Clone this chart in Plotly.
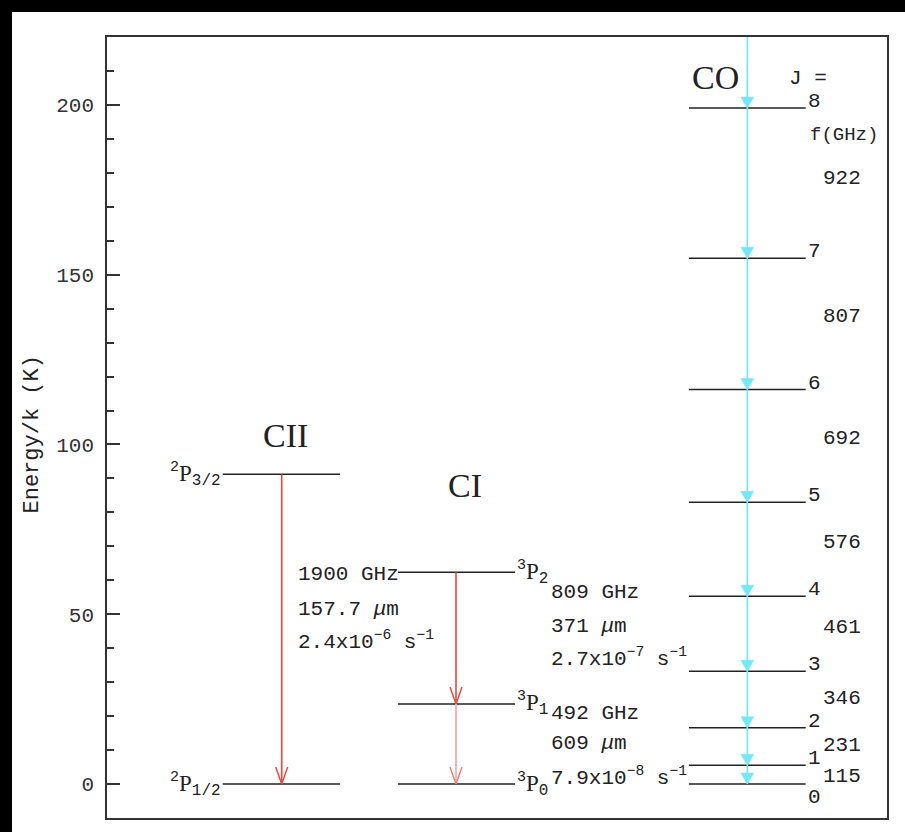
import plotly.graph_objects as go

# ---------------- data (energies in K) ----------------
cii_levels = [0.0, 91.2]
cii_term_sup = ["2", "2"]
cii_term_sub = ["1/2", "3/2"]
ci_levels = [0.0, 23.6, 62.4]
ci_term_sup = ["3", "3", "3"]
ci_term_sub = ["0", "1", "2"]
co_J = [0, 1, 2, 3, 4, 5, 6, 7, 8]
co_levels = [0.0, 5.53, 16.60, 33.19, 55.32, 82.97, 116.16, 154.87, 199.11]
co_freq = ["115", "231", "346", "461", "576", "692", "807", "922"]
co_freq_label_E = [2.2, 11.3, 25.1, 46.0, 71.0, 101.9, 137.7, 178.3]

cii_trans = ["1900 GHz", "157.7 <i>μ</i>m", "2.4x10<sup>−6</sup> s<sup>−1</sup>"]
cii_trans_E = [61.6, 51.3, 42.4]
ci_trans_hi = ["809 GHz", "371 <i>μ</i>m", "2.7x10<sup>−7</sup> s<sup>−1</sup>"]
ci_trans_hi_E = [56.3, 46.3, 37.2]
ci_trans_lo = ["492 GHz", "609 <i>μ</i>m", "7.9x10<sup>−8</sup> s<sup>−1</sup>"]
ci_trans_lo_E = [20.7, 11.9, 2.1]

y_ticks = [0, 50, 100, 150, 200]

# ---------------- layout constants (diagram x units ~ pixels) ----------------
XMAX = 780
YR = [-10, 220]
CII_X = (115.7, 233.0, 174.7)   # left, right, arrow
CI_X = (291.0, 408.0, 349.0)
CO_X = (582.0, 698.7, 640.3)
PX_PER_K = 3.4

LEVEL_COLOR = "#222222"
RED = "#EE4433"
PINK = "#F6A3A3"
CYAN = "#72E8F8"
MONO = "Liberation Mono"
SERIF = "Liberation Serif"
TXT = "#222222"

fig = go.Figure()


def levels_trace(x0, x1, levels):
    xs, ys = [], []
    for e in levels:
        xs += [x0, x1, None]
        ys += [e, e, None]
    fig.add_trace(go.Scatter(x=xs, y=ys, mode="lines",
                             line=dict(color=LEVEL_COLOR, width=1.5),
                             hoverinfo="skip", showlegend=False))


def v_arrow(x, e_top, e_bot, line_color, head_color):
    fig.add_trace(go.Scatter(x=[x, x], y=[e_top, e_bot], mode="lines",
                             line=dict(color=line_color, width=1.6),
                             hoverinfo="skip", showlegend=False))
    dy = 17 / PX_PER_K
    fig.add_trace(go.Scatter(x=[x - 6, x, x + 6], y=[e_bot + dy, e_bot, e_bot + dy],
                             mode="lines", line=dict(color=head_color, width=1.4),
                             hoverinfo="skip", showlegend=False))


levels_trace(CII_X[0], CII_X[1], cii_levels)
levels_trace(CI_X[0], CI_X[1], ci_levels)
levels_trace(CO_X[0], CO_X[1], co_levels)

# red arrows
v_arrow(CII_X[2], cii_levels[1], cii_levels[0], RED, RED)
v_arrow(CI_X[2], ci_levels[2], ci_levels[1], RED, RED)
v_arrow(CI_X[2], ci_levels[1], ci_levels[0], PINK, "#F07A70")

# cyan CO cascade
fig.add_trace(go.Scatter(x=[CO_X[2], CO_X[2]], y=[YR[1], co_levels[0]], mode="lines",
                         line=dict(color=CYAN, width=1.6), hoverinfo="skip",
                         showlegend=False, cliponaxis=False))
th = 11 / PX_PER_K
for e in co_levels:
    fig.add_trace(go.Scatter(x=[CO_X[2] - 6.5, CO_X[2] + 6.5, CO_X[2], CO_X[2] - 6.5],
                             y=[e + th, e + th, e, e + th], mode="lines",
                             fill="toself", fillcolor=CYAN, line=dict(color=CYAN, width=0.5),
                             hoverinfo="skip", showlegend=False))

ann = []


def text(x, y, s, size=21, family=MONO, xanchor="left", yanchor="middle", xshift=0, yshift=0):
    ann.append(dict(x=x, y=y, xref="x", yref="y", text=s, showarrow=False,
                    font=dict(family=family, size=size, color=TXT),
                    xanchor=xanchor, yanchor=yanchor, xshift=xshift, yshift=yshift))


def term(sup, sub):
    return ("<sup><span style='font-family:Liberation Mono;font-size:15px'>" + sup +
            "</span></sup>P<sub><span style='font-family:Liberation Mono;font-size:16px'>" +
            sub + "</span></sub>")


# species names
text(178, 102.7, "CII", size=34, family=SERIF, xanchor="center")
text(358, 88.0, "CI", size=34, family=SERIF, xanchor="center")
text(608.5, 208.1, "CO", size=34, family=SERIF, xanchor="center")

# term labels
for e, sp, sb in zip(cii_levels, cii_term_sup, cii_term_sub):
    text(CII_X[0], e, term(sp, sb), size=23, family=SERIF, xanchor="right", yshift=0)
for e, sp, sb in zip(ci_levels, ci_term_sup, ci_term_sub):
    text(CI_X[1], e, term(sp, sb), size=23, family=SERIF, xanchor="left", yshift=0)

# transition labels
for e, t in zip(cii_trans_E, cii_trans):
    text(189, e, t)
for e, t in zip(ci_trans_hi_E, ci_trans_hi):
    text(442, e, t)
for e, t in zip(ci_trans_lo_E, ci_trans_lo):
    text(442, e, t)

# CO J labels
text(680, 207.7, "J =")
for j, e in zip(co_J, co_levels):
    if j == 0:
        text(CO_X[1], e, str(j), xanchor="left", yanchor="top", yshift=0)
    else:
        text(CO_X[1], e, str(j), xanchor="left", yanchor="bottom", yshift=-7)
text(701, 191.0, "f(GHz)", size=19, xanchor="left")
for e, f in zip(co_freq_label_E, co_freq):
    text(735, e, f, xanchor="center")

# y-axis title
ann.append(dict(x=(32 - 107) / 780, y=(818 - 434.5) / 781, xref="paper", yref="paper",
                text="Energy/k (K)", textangle=-90, showarrow=False,
                font=dict(family=MONO, size=22, color=TXT),
                xanchor="center", yanchor="middle"))

# black bands at left and top of the picture
L, R, T, B = 107, 18, 37, 14
W, H = 905 - L - R, 832 - T - B
shapes = [
    dict(type="rect", xref="paper", yref="paper", x0=-L / W, x1=(12 - L) / W,
         y0=-B / H, y1=1 + T / H, fillcolor="black", line=dict(width=0)),
    dict(type="rect", xref="paper", yref="paper", x0=-L / W, x1=1 + R / W,
         y0=1 + (T - 12) / H, y1=1 + T / H, fillcolor="black", line=dict(width=0)),
]

fig.update_layout(
    width=905, height=832,
    margin=dict(l=L, r=R, t=T, b=B),
    paper_bgcolor="white", plot_bgcolor="white",
    showlegend=False,
    annotations=ann, shapes=shapes,
    xaxis=dict(range=[0, XMAX], showgrid=False, zeroline=False, showticklabels=False,
               ticks="", showline=True, mirror=True, linecolor="#333333", linewidth=1.5,
               fixedrange=True),
    yaxis=dict(range=YR, showgrid=False, zeroline=False, tickmode="array",
               tickvals=y_ticks, ticktext=[str(v) for v in y_ticks],
               ticks="inside", ticklen=13, tickwidth=1.5, tickcolor="#333333",
               minor=dict(dtick=10, tick0=0, ticks="inside", ticklen=7, tickwidth=1.5,
                          tickcolor="#333333"),
               tickfont=dict(family=MONO, size=21, color="#333333"),
               ticklabelstandoff=7,
               showline=True, mirror=True, linecolor="#333333", linewidth=1.5,
               fixedrange=True),
)

fig.write_html("out.html")
